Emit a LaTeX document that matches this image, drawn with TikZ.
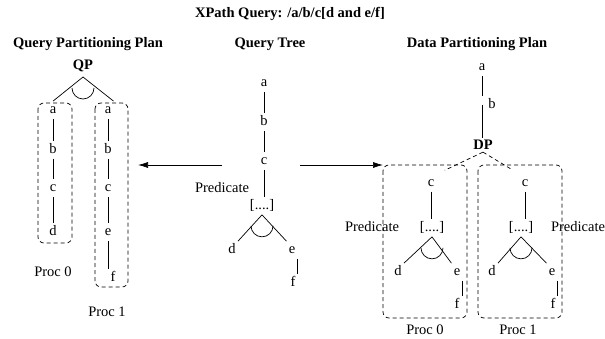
\documentclass[tikz,border=0pt]{standalone}
\usepackage{fontspec}
\setmainfont{Liberation Serif}
\usetikzlibrary{arrows.meta}

\begin{document}
\begin{tikzpicture}[x=1pt,y=-1pt,line width=0.7pt,
	every node/.style={font=\fontsize{14.5}{17}\selectfont,inner sep=2pt},
	ltr/.style={text height=10pt,text depth=3pt},
	ttl/.style={font=\fontsize{14.5}{17}\selectfont\bfseries},
	procbox/.style={dash pattern=on 4pt off 3pt,rounded corners=6pt},
	dashlink/.style={dash pattern=on 4pt off 3pt,shorten >=9pt},
	flow/.style={-{Latex[length=10pt,width=6pt]}}]
	\useasboundingbox (0,0) rectangle (605,339);
	
	\node[ttl] (xpath) at (290,14) {XPath Query: /a/b/c[d and e/f]};
	\node[ttl] (qptitle) at (88,44) {Query Partitioning Plan};
	\node[ttl] (qttitle) at (270,44) {Query Tree};
	\node[ttl] (dptitle) at (477,44) {Data Partitioning Plan};
	
	% query partitioning plan
	\node[ttl] (qp) at (83,66) {QP};
	\coordinate (qpapex) at (83,77);
	\node[ltr] (qa0) at (53,110) {a};
	\node[ltr] (qb0) at (53,150) {b};
	\node[ltr] (qc0) at (53,188) {c};
	\node[ltr] (qd0) at (53,232) {d};
	\node[ltr] (qa1) at (108,110) {a};
	\node[ltr] (qb1) at (108,150) {b};
	\node[ltr] (qc1) at (108,188) {c};
	\node[ltr] (qe1) at (108,232) {e};
	\node[ltr] (qf1) at (113,278) {f};
	\draw (qpapex) -- (qa0.north);
	\draw (qpapex) -- (qa1.north east);
	\draw ([shift={(-11pt,-11pt)}]qpapex) arc[start angle=180,end angle=360,radius=11pt];
	\draw (qa0) -- (qb0);
	\draw (qb0) -- (qc0);
	\draw (qc0) -- (qd0);
	\draw (qa1) -- (qb1);
	\draw (qb1) -- (qc1);
	\draw (qc1) -- (qe1);
	\draw (qe1.south) -- (qe1.south |- qf1.north);
	\draw[procbox] (38,103) rectangle (72,243);
	\draw[procbox] (95,103) rectangle (128,287);
	\node (qproc0) at (53,272) {Proc 0};
	\node (qproc1) at (107,312) {Proc 1};
	
	% query tree
	\node[ltr] (ta) at (264,83) {a};
	\node[ltr] (tb) at (264,122) {b};
	\node[ltr] (tc) at (264,161) {c};
	\node[ltr] (tp) at (262,206) {[....]};
	\node[ltr] (td) at (232,250) {d};
	\node[ltr] (te) at (292,250) {e};
	\node[ltr] (tf) at (293,283) {f};
	\node (tpred) at (222,188) {Predicate};
	\draw (ta) -- (tb);
	\draw (tb) -- (tc);
	\draw (tc) -- (tc |- tp.north);
	\draw (tp.south) -- (td.north east);
	\draw (tp.south) -- (te.north west);
	\draw ([shift={(-11pt,-11pt)}]tp.south) arc[start angle=180,end angle=360,radius=11pt];
	\draw (te.south east) -- (te.south east |- tf.north);
	
	\coordinate (qpin) at (138,165);
	\coordinate (dpin) at (383,165);
	\draw[flow] (222,165) -- (qpin);
	\draw[flow] (300,165) -- (dpin);
	
	% data partitioning plan
	\node[ltr] (da) at (482,67) {a};
	\node[ltr] (db) at (492,105) {b};
	\node[ttl] (dp) at (483,145) {DP};
	\draw (da) -- (da |- db.north);
	\draw (da |- db.center) -- (dp.north -| da);
	
	\node[ltr] (cl) at (431,183) {c};
	\node[ltr] (pl) at (432,228) {[....]};
	\node[ltr] (dl) at (398,272) {d};
	\node[ltr] (el) at (457,272) {e};
	\node[ltr] (fl) at (457,305) {f};
	\node (predl) at (372,227) {Predicate};
	\draw[dashlink] (dp.south) -- (cl.north east);
	\draw (cl) -- (cl |- pl.north);
	\draw (pl.south) -- (dl.north east);
	\draw (pl.south) -- (el.north west);
	\draw ([shift={(-11pt,-11pt)}]pl.south) arc[start angle=180,end angle=360,radius=11pt];
	\draw (el.south east) -- (el.south east |- fl.north);
	\draw[procbox] (383,165) rectangle (467,318);
	\node[inner sep=0pt] (dproc0) at (425,330) {Proc 0};
	
	\node[ltr] (cr) at (525,183) {c};
	\node[ltr] (pr) at (521,228) {[....]};
	\node[ltr] (dr) at (492,272) {d};
	\node[ltr] (er) at (552,272) {e};
	\node[ltr] (fr) at (553,305) {f};
	\node (predr) at (578,227) {Predicate};
	\draw[dashlink] (dp.south) -- (cr.north west);
	\draw (cr) -- (cr |- pr.north);
	\draw (pr.south) -- (dr.north east);
	\draw (pr.south) -- (er.north west);
	\draw ([shift={(-11pt,-11pt)}]pr.south) arc[start angle=180,end angle=360,radius=11pt];
	\draw (er.south east) -- (er.south east |- fr.north);
	\draw[procbox] (478,165) rectangle (562,318);
	\node[inner sep=0pt] (dproc1) at (518,330) {Proc 1};
	
\end{tikzpicture}
\end{document}
